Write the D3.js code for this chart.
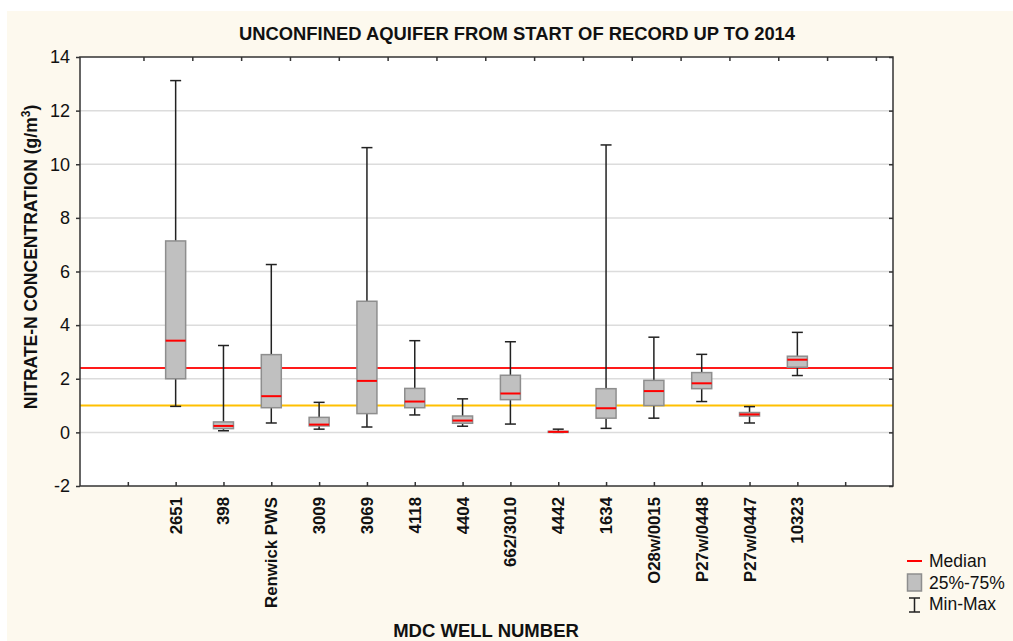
<!DOCTYPE html>
<html>
<head>
<meta charset="utf-8">
<script src="https://cdn.jsdelivr.net/npm/d3@7.9.0/dist/d3.min.js"></script>
<style>
  body { margin: 0; background: #fff; }
  svg { display: block; font-family: "Liberation Sans", Arial, sans-serif; }
</style>
</head>
<body>
<svg id="chart" width="1013" height="641"></svg>
<script>
// well numbers and box statistics (g/m3)
const wells   = ["2651", "398", "Renwick PWS", "3009", "3069", "4118", "4404", "662/3010", "4442", "1634", "O28w/0015", "P27w/0448", "P27w/0447", "10323"];
const mins    = [0.97, 0.06, 0.35, 0.12, 0.20, 0.65, 0.23, 0.31, 0.00, 0.15, 0.53, 1.15, 0.35, 2.12];
const q1s     = [2.00, 0.14, 0.92, 0.24, 0.70, 0.92, 0.34, 1.22, 0.00, 0.53, 1.00, 1.63, 0.61, 2.43];
const medians = [3.42, 0.24, 1.35, 0.29, 1.92, 1.15, 0.44, 1.45, 0.02, 0.90, 1.54, 1.83, 0.67, 2.71];
const q3s     = [7.14, 0.39, 2.90, 0.56, 4.89, 1.64, 0.61, 2.13, 0.04, 1.63, 1.94, 2.23, 0.74, 2.84];
const maxs    = [13.12, 3.24, 6.26, 1.12, 10.62, 3.42, 1.25, 3.38, 0.12, 10.72, 3.55, 2.91, 0.96, 3.73];

const yTicks = [-2, 0, 2, 4, 6, 8, 10, 12, 14];
const refLines = [{ value: 2.4, color: "#ff1a1a" }, { value: 1.0, color: "#ffc000" }];

const svg = d3.select("#chart");
const W = 1013, H = 641;
const pLeft = 80, pRight = 893, pTop = 57, pBottom = 486;

// cream page background
svg.append("rect").attr("x", 7).attr("y", 11).attr("width", W - 7).attr("height", H - 11)
  .attr("fill", "#fdf9ee");
svg.append("rect").attr("x", pLeft).attr("y", pTop).attr("width", pRight - pLeft).attr("height", pBottom - pTop)
  .attr("fill", "#fff");

// slot positions: empty tick, 14 wells, empty tick
const x = d3.scaleLinear().domain([0, 17]).range([pLeft, pRight]);
const xTop = d3.scaleLinear().domain([-1.3, 15.35]).range([pLeft, pRight]);
const y = d3.scaleLinear().domain([-2, 14]).range([pBottom, pTop]);

// gridlines
svg.append("g").selectAll("line").data(yTicks.filter(d => d > -2 && d < 14)).join("line")
  .attr("x1", pLeft).attr("x2", pRight)
  .attr("y1", d => y(d)).attr("y2", d => y(d))
  .attr("stroke", "#dcdcdc").attr("stroke-width", 1.5);

// reference lines
svg.append("g").selectAll("line").data(refLines).join("line")
  .attr("x1", pLeft).attr("x2", pRight)
  .attr("y1", d => y(d.value)).attr("y2", d => y(d.value))
  .attr("stroke", d => d.color).attr("stroke-width", 2);

// boxes
const boxW = 20, capW = 11;
const g = svg.append("g");
wells.forEach((w, i) => {
  const cx = x(i + 2);
  g.append("line").attr("x1", cx).attr("x2", cx).attr("y1", y(maxs[i])).attr("y2", y(q3s[i]))
    .attr("stroke", "#222").attr("stroke-width", 1.5);
  g.append("line").attr("x1", cx).attr("x2", cx).attr("y1", y(q1s[i])).attr("y2", y(mins[i]))
    .attr("stroke", "#222").attr("stroke-width", 1.5);
  [maxs[i], mins[i]].forEach(v => {
    g.append("line").attr("x1", cx - capW / 2).attr("x2", cx + capW / 2)
      .attr("y1", y(v)).attr("y2", y(v)).attr("stroke", "#222").attr("stroke-width", 1.5);
  });
  g.append("rect").attr("x", cx - boxW / 2).attr("y", y(q3s[i]))
    .attr("width", boxW).attr("height", Math.max(1, y(q1s[i]) - y(q3s[i])))
    .attr("fill", "#c0c0c0").attr("stroke", "#8e8e8e").attr("stroke-width", 1.5);
  g.append("line").attr("x1", cx - boxW / 2).attr("x2", cx + boxW / 2)
    .attr("y1", y(medians[i])).attr("y2", y(medians[i]))
    .attr("stroke", "#ff0000").attr("stroke-width", 2);
});

// frame
svg.append("rect").attr("x", pLeft).attr("y", pTop).attr("width", pRight - pLeft).attr("height", pBottom - pTop)
  .attr("fill", "none").attr("stroke", "#333").attr("stroke-width", 1.5);

// axes
const yAxis = svg.append("g").attr("transform", `translate(${pLeft},0)`)
  .call(d3.axisLeft(y).tickValues(yTicks).tickFormat(d => String(d)).tickSize(4).tickPadding(6));
const yRight = svg.append("g").attr("transform", `translate(${pRight},0)`)
  .call(d3.axisLeft(y).tickValues(yTicks).tickFormat("").tickSize(4));
const xAxis = svg.append("g").attr("transform", `translate(0,${pBottom})`)
  .call(d3.axisTop(x).tickValues(d3.range(1, 17)).tickFormat("").tickSize(4));
const xTopAxis = svg.append("g").attr("transform", `translate(0,${pTop})`)
  .call(d3.axisBottom(xTop).tickValues(d3.range(0, 16)).tickFormat("").tickSize(4));
[yAxis, yRight, xAxis, xTopAxis].forEach(a => {
  a.select(".domain").remove();
  a.selectAll(".tick line").attr("stroke", "#333").attr("stroke-width", 1.5);
});
yAxis.selectAll("text").attr("font-size", 18).attr("fill", "#111");

// well labels
svg.append("g").selectAll("text").data(wells).join("text")
  .attr("transform", (d, i) => `translate(${x(i + 2) + 6},497) rotate(-90)`)
  .attr("text-anchor", "end")
  .attr("font-size", 16.8).attr("font-weight", "bold").attr("fill", "#111")
  .text(d => d);

// titles
svg.append("text").attr("x", 517).attr("y", 40).attr("text-anchor", "middle")
  .attr("font-size", 18.4).attr("font-weight", "bold").attr("fill", "#111")
  .text("UNCONFINED AQUIFER FROM START OF RECORD UP TO 2014");
svg.append("text").attr("x", 486).attr("y", 637).attr("text-anchor", "middle")
  .attr("font-size", 18.5).attr("font-weight", "bold").attr("fill", "#111")
  .text("MDC WELL NUMBER");
const yt = svg.append("text").attr("transform", "translate(37,257) rotate(-90)")
  .attr("text-anchor", "middle").attr("font-size", 17.5).attr("font-weight", "bold").attr("fill", "#111");
yt.append("tspan").text("NITRATE-N CONCENTRATION (g/m");
yt.append("tspan").attr("font-size", 12).attr("dy", -7).text("3");
yt.append("tspan").attr("dy", 7).text(")");

// legend
const lg = svg.append("g").attr("transform", "translate(907,0)");
lg.append("line").attr("x1", 0).attr("x2", 15).attr("y1", 561).attr("y2", 561)
  .attr("stroke", "#ff0000").attr("stroke-width", 2);
lg.append("rect").attr("x", 0.5).attr("y", 574).attr("width", 14).attr("height", 17)
  .attr("fill", "#c0c0c0").attr("stroke", "#8e8e8e").attr("stroke-width", 1.5);
lg.append("path").attr("d", "M2,598H13M7.5,598V612M2,612H13")
  .attr("stroke", "#222").attr("stroke-width", 1.5).attr("fill", "none");
lg.selectAll("text").data(["Median", "25%-75%", "Min-Max"]).join("text")
  .attr("x", 22).attr("y", (d, i) => 567 + i * 21.5)
  .attr("font-size", 17.5).attr("fill", "#111").text(d => d);
</script>
</body>
</html>
